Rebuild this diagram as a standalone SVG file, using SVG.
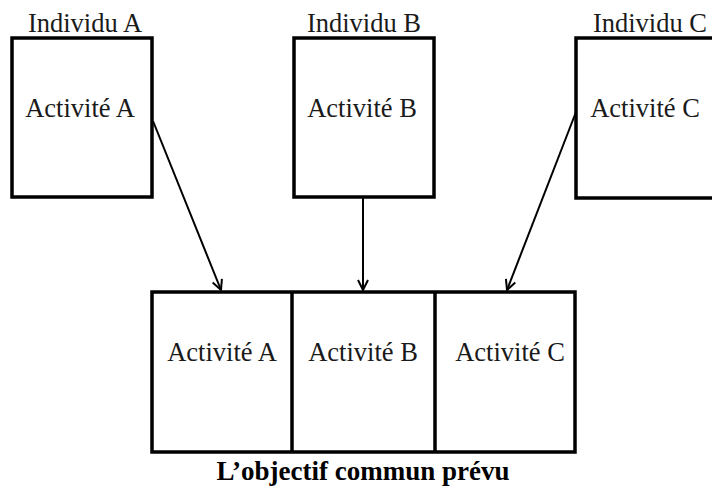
<svg xmlns="http://www.w3.org/2000/svg" width="712" height="490" viewBox="0 0 712 490">
<style>
.box{fill:#fff;stroke:#000;stroke-width:3.5}
.t{font-family:"Liberation Serif","Times New Roman",serif;font-size:26.5px;fill:#1a1a1a}
.title{font-family:"Liberation Serif","Times New Roman",serif;font-size:27px;font-weight:bold;fill:#000}
.c{stroke:#000;stroke-width:2;fill:none}
</style>
<defs>
<marker id="arr" viewBox="0 0 12 12" refX="11" refY="6" markerWidth="12" markerHeight="12" markerUnits="userSpaceOnUse" orient="auto">
<path d="M1,1 L11,6 L1,11" fill="none" stroke="#000" stroke-width="2"/>
</marker>
</defs>
<rect width="712" height="490" fill="#fff"/>
<g id="individuA">
<rect class="box" x="12" y="38" width="140" height="159"/>
<text class="t" x="85" y="32" text-anchor="middle">Individu A</text>
<text class="t" x="80" y="117" text-anchor="middle">Activité A</text>
</g>
<g id="individuB">
<rect class="box" x="294" y="38" width="140" height="159"/>
<text class="t" x="364" y="32" text-anchor="middle">Individu B</text>
<text class="t" x="362" y="117" text-anchor="middle">Activité B</text>
</g>
<g id="individuC">
<rect class="box" x="576" y="38" width="150" height="160"/>
<text class="t" x="650" y="32" text-anchor="middle">Individu C</text>
<text class="t" x="645" y="117" text-anchor="middle">Activité C</text>
</g>
<g id="objectif">
<rect class="box" x="152" y="292" width="423" height="160"/>
<line x1="292" y1="292" x2="292" y2="452" stroke="#000" stroke-width="3.5"/>
<line x1="435" y1="292" x2="435" y2="452" stroke="#000" stroke-width="3.5"/>
<text class="t" x="222" y="361" text-anchor="middle">Activité A</text>
<text class="t" x="363" y="361" text-anchor="middle">Activité B</text>
<text class="t" x="510" y="361" text-anchor="middle">Activité C</text>
<text class="title" x="363" y="480" text-anchor="middle">L’objectif commun prévu</text>
</g>
<g id="connectors">
<line class="c" x1="153" y1="121" x2="221" y2="290" marker-end="url(#arr)"/>
<line class="c" x1="363" y1="198" x2="363" y2="290" marker-end="url(#arr)"/>
<line class="c" x1="576" y1="112" x2="507" y2="290" marker-end="url(#arr)"/>
</g>
</svg>
